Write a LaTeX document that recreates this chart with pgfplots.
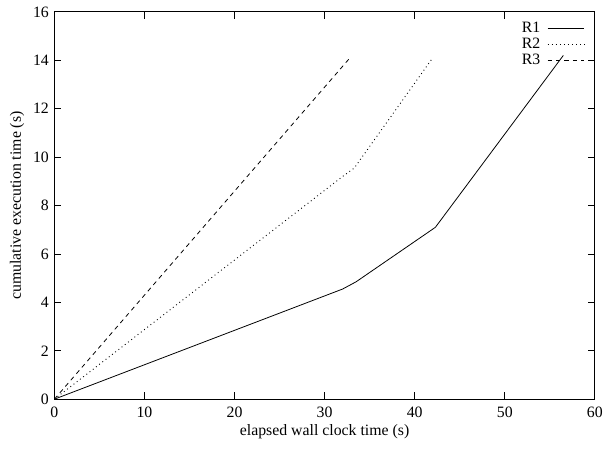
\documentclass[border=0pt]{standalone}
\usepackage{fontspec}
\setmainfont{Liberation Serif}
\usepackage{pgfplots}
\pgfplotsset{compat=1.18}
\begin{document}
\fontsize{16}{18}\selectfont
\begin{tikzpicture}
\begin{axis}[
    scale only axis,
    width=547pt, height=392pt,
    xmin=0, xmax=60, ymin=0, ymax=16,
    xtick={0,10,...,60},
    ytick={0,2,...,16},
    tick align=inside,
    major tick length=7pt,
    axis line style={line width=0.8pt},
    tick style={line width=0.8pt, black},
    /pgf/number format/assume math mode=true,
    ticklabel style={font=\fontsize{16}{18}\selectfont},
    xticklabel style={yshift=-2pt},
    xlabel={elapsed wall clock time (s)},
    ylabel={cumulative execution time (s)},
    label style={font=\fontsize{16}{18}\selectfont},
    xlabel style={yshift=4pt},
    ylabel style={yshift=-2pt},
    legend plot pos=right,
    legend cell align=right,
    legend style={draw=none, fill=none, at={(0.987,0.983)}, anchor=north east,
        font=\fontsize{16}{14}\selectfont, row sep=0pt,
        nodes={inner sep=1pt, text height=11pt, text depth=3pt}},
    legend image code/.code={\path (0pt,0pt); \draw[#1] (6pt,0pt) -- (43pt,0pt);},
]
\addplot[black, line width=0.8pt] coordinates {
    (0,0) (32,4.55) (33.5,4.85) (42.3,7.1) (56.5,14.2)};
\addplot[black, line width=0.9pt, dash pattern=on 0.9pt off 3.2pt] coordinates {
    (0,0) (32,9.2) (33.3,9.55) (42,14.1)};
\addplot[black, line width=0.8pt, dash pattern=on 4.5pt off 4pt] coordinates {
    (0,0) (32.7,14.05)};
\legend{R1, R2, R3}
\end{axis}
\path (-55pt,-56pt) rectangle (553pt,404pt);
\end{tikzpicture}
\end{document}
